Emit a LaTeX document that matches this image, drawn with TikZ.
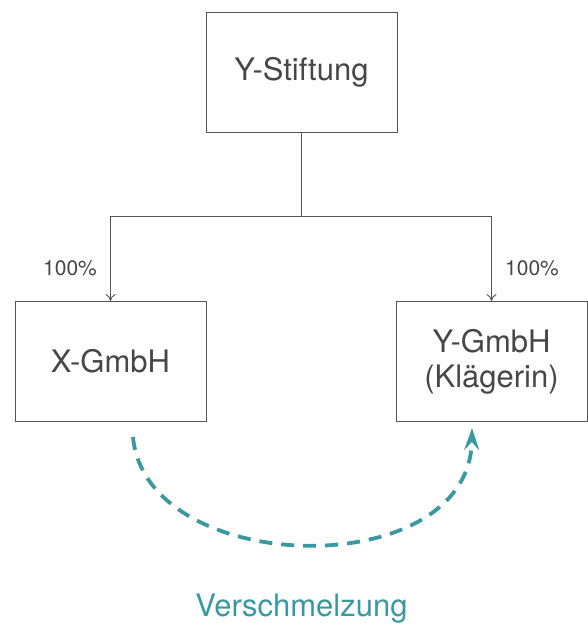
\documentclass[tikz,border=0pt]{standalone}
\usepackage{fontspec}
\setmainfont{TeX Gyre Heros}
\usetikzlibrary{arrows.meta}
\definecolor{linegray}{HTML}{555555}
\definecolor{textgray}{HTML}{474747}
\definecolor{teal}{HTML}{3A98A0}

\begin{document}
\begin{tikzpicture}[x = 1pt, y = -1pt]
\tikzstyle{boxStyle} = [shape = rectangle, draw = linegray, line width = 0.9pt, minimum width = 191pt, minimum height = 120pt, inner sep = 0pt, align = center, text = textgray, font = \fontsize{31}{35}\selectfont]
\tikzstyle{shareStyle} = [draw = linegray, line width = 0.9pt, -{To[length = 7pt, width = 10pt]}]
\tikzstyle{pctStyle} = [text = textgray, font = \fontsize{21}{24}\selectfont]
\tikzstyle{mergeStyle} = [draw = teal, line width = 3.8pt, dash pattern = on 13pt off 9pt, -{Stealth[length = 22pt, width = 15pt, inset = 8pt]}]
\useasboundingbox (0, 0) rectangle (587, 624);
\node[boxStyle] (ystift) at (301.5, 72) {Y-Stiftung};
\node[boxStyle] (xgmbh) at (110.5, 361.5) {X-GmbH};
\node[boxStyle] (ygmbh) at (491.5, 361.5) {Y-GmbH\\(Klägerin)};
\coordinate (fork) at (301.5, 216);
\node[pctStyle] (pctx) at (70, 268) {100\%};
\node[pctStyle] (pcty) at (532, 268) {100\%};
\draw[draw = linegray, line width = 0.9pt] (ystift.south) -- (fork);
\draw[shareStyle] (fork) -| (xgmbh.north);
\draw[shareStyle] (fork) -| (ygmbh.north);
\coordinate (mstart) at (133, 437);
\coordinate (mend) at (472, 428);
\draw[mergeStyle] (mstart) .. controls (146, 578) and (470, 585) .. (mend);
\node[text = teal, font = \fontsize{31}{35}\selectfont] (merge) at (301.5, 609) {Verschmelzung};
\end{tikzpicture}
\end{document}
